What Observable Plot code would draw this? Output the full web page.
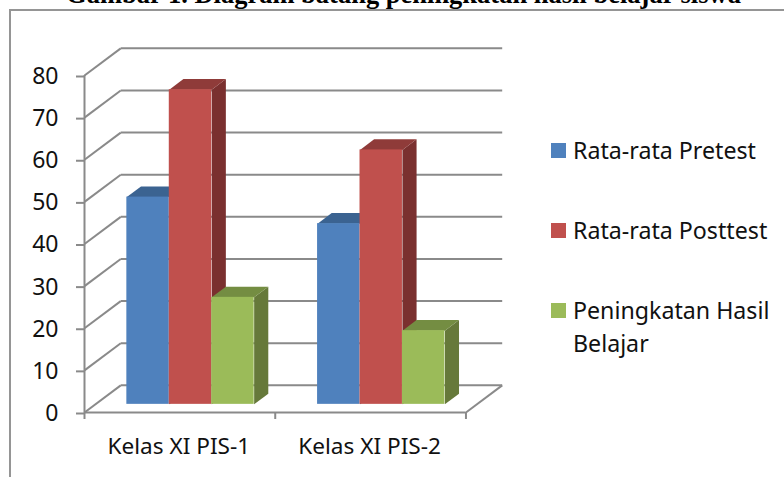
<!DOCTYPE html>
<html><head><meta charset="utf-8">
<script src="https://cdn.jsdelivr.net/npm/d3@7"></script>
<script src="https://cdn.jsdelivr.net/npm/@observablehq/plot@0.6"></script>
<style>
html,body{margin:0;padding:0;background:#fff;overflow:hidden}
#page{position:relative;width:784px;height:477px;overflow:hidden;font-family:"Noto Sans",sans-serif;color:#111}
#page svg{position:absolute;left:0;top:0}
#title{position:absolute;left:0;width:807px;top:-21px;text-align:center;font:bold 26.5px/30px "Liberation Serif",serif;color:#000;white-space:nowrap}
#border{position:absolute;left:9px;top:9px;right:-5px;bottom:-5px;border:2px solid #959595}
.lg{position:absolute;left:551px;width:225px;font-size:23.2px;line-height:33px}
.lg i{position:absolute;left:0;top:6px;width:15px;height:15px}
.lg span{display:block;margin-left:22px;margin-top:-3px}
</style></head><body>
<div id="page"><div id="border"></div><div id="title">Gambar 1. Diagram batang peningkatan hasil belajar siswa</div><div id="chart"></div></div>
<script>
const categories = ["Kelas XI PIS-1", "Kelas XI PIS-2"];
const seriesNames = ["Rata-rata Pretest", "Rata-rata Posttest", "Peningkatan Hasil Belajar"];
const pretest = [49.2, 42.9];
const posttest = [74.7, 60.4];
const peningkatan = [25.4, 17.5];
const yTicks = [0, 10, 20, 30, 40, 50, 60, 70, 80];
const frontColors = ["#4f81bd", "#c0504d", "#9bbb59"];
const topColors = ["#3b6391", "#8f3b39", "#748d42"];
const sideColors = ["#2f4f75", "#7a302f", "#66793a"];

const values = [pretest, posttest, peningkatan];
// oblique depth of the wall in data units (x: categories, y: value)
const wallX = 0.19, wallY = 6.45;
const gap = 0.165, barW = 0.2225;
const zFront = 0.3, zBack = 0.69;

const project = (x, v, z) => ({px: x + z * wallX, py: v + z * wallY});
const bars = categories.flatMap((c, i) => seriesNames.map((s, k) => ({
  i, k, v: values[k][i], x1: i + gap + k * barW, x2: i + gap + (k + 1) * barW
})));
const poly = (b, name, corners) => corners.map(([x, v, z]) => ({...project(x, v, z), id: `${b.i}-${b.k}-${name}`}));
const barMarks = bars.flatMap(b => {
  const side = poly(b, "side", [[b.x2,0,zFront],[b.x2,0,zBack],[b.x2,b.v,zBack],[b.x2,b.v,zFront]]);
  const top = poly(b, "top", [[b.x1,b.v,zFront],[b.x1,b.v,zBack],[b.x2,b.v,zBack],[b.x2,b.v,zFront]]);
  const f0 = project(b.x1, 0, zFront), f1 = project(b.x2, b.v, zFront);
  return [
    Plot.line(side, {x:"px", y:"py", fill: sideColors[b.k], stroke:"none"}),
    Plot.line(top, {x:"px", y:"py", fill: topColors[b.k], stroke:"none"}),
    Plot.rect([b], {x1:() => f0.px, x2:() => f1.px, y1:() => f0.py, y2:() => f1.py, fill: frontColors[b.k]})
  ];
});
const gray = "#8a8a8a", sw = 2;
const chart = Plot.plot({
  width: 784, height: 477,
  marginLeft: 84, marginRight: 282.3, marginTop: 40, marginBottom: 65,
  x: {type:"linear", domain:[0, 2 + wallX], range:[84, 501.7]},
  y: {domain:[0, 80], range:[412, 75]},
  style: {background:"transparent", fontFamily:"'Noto Sans',sans-serif", overflow:"visible"},
  marks: [
    Plot.link(yTicks, {x1:wallX, x2:2 + wallX, y1:d => d + wallY, y2:d => d + wallY, stroke:gray, strokeWidth:sw}),
    Plot.link(yTicks, {x1:0, x2:wallX, y1:d => d, y2:d => d + wallY, stroke:gray, strokeWidth:sw}),
    Plot.link([2], {x1:d => d, x2:d => d + wallX, y1:0, y2:wallY, stroke:gray, strokeWidth:sw}),
    Plot.ruleX([0], {y1:0, y2:80, stroke:gray, strokeWidth:sw}),
    Plot.ruleY([0], {x1:0, x2:2, stroke:gray, strokeWidth:sw}),
    Plot.axisY({ticks:yTicks, label:null, tickSize:8, tickPadding:18, dy:1, stroke:gray, strokeWidth:sw, fill:"#111", fontSize:23}),
    Plot.axisX({ticks:[0,1,2], label:null, tickSize:7, tickFormat:() => "", stroke:gray, strokeWidth:sw}),
    Plot.text(categories, {x:(d,i) => i + 0.5, y:0, text:d => d, dx:-1, dy:34, fontSize:22.6, fill:"#111"}),
    ...barMarks
  ]
});
document.getElementById("chart").appendChild(chart);
const tops = [137, 217, 297];
seriesNames.forEach((s, k) => {
  const d = document.createElement("div");
  d.className = "lg"; d.style.top = tops[k] + "px";
  const sw = document.createElement("i"); sw.style.background = frontColors[k];
  const t = document.createElement("span"); t.textContent = s;
  d.append(sw, t);
  document.getElementById("page").appendChild(d);
});
</script></body></html>
